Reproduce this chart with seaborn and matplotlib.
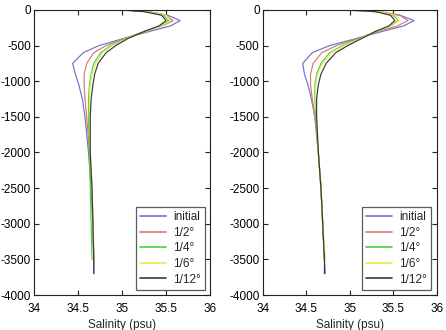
import matplotlib
matplotlib.use("Agg")
import matplotlib.pyplot as plt
import seaborn as sns
import pandas as pd
import numpy as np

sns.set_style("white")
plt.rcParams['font.family'] = ['Liberation Sans', 'DejaVu Sans']
plt.rcParams['axes.unicode_minus'] = False

# depth levels (m), shared by all profiles
depth = [0, -25, -75, -150, -225, -300, -400, -500, -600, -750, -900,
         -1050, -1250, -1500, -2000, -2500, -3000, -3500, -3700]

runs = ['initial', '1/2°', '1/4°', '1/6°', '1/12°']
colors = ['#7070c8', '#d07878', '#48d048', '#eaea48', '#383838']

# left panel salinity (psu)
left_initial = [35.02, 35.30, 35.52, 35.66, 35.55, 35.32, 35.02, 34.74, 34.56, 34.44,
                34.47, 34.51, 34.55, 34.58, 34.62, 34.65, 34.67, 34.68, 34.68]
left_half = [35.00, 35.30, 35.50, 35.58, 35.46, 35.26, 35.03, 34.82, 34.68, 34.60,
             34.57, 34.57, 34.58, 34.60, 34.63, 34.66, 34.67, 34.68, np.nan]
left_quarter = [35.00, 35.28, 35.47, 35.53, 35.43, 35.25, 35.05, 34.87, 34.76, 34.68,
                34.65, 34.63, 34.62, 34.62, 34.63, 34.64, 34.65, 34.66, np.nan]
left_sixth = [35.00, 35.28, 35.50, 35.55, 35.45, 35.27, 35.06, 34.89, 34.78, 34.70,
              34.66, 34.64, 34.63, 34.63, 34.64, 34.66, 34.67, 34.68, np.nan]
left_twelfth = [34.98, 35.25, 35.45, 35.50, 35.42, 35.26, 35.07, 34.93, 34.82, 34.73,
                34.69, 34.67, 34.65, 34.64, 34.64, 34.66, 34.67, 34.68, 34.68]

# right panel salinity (psu)
right_initial = [34.87, 35.30, 35.58, 35.74, 35.62, 35.38, 35.08, 34.77, 34.57, 34.46,
                 34.48, 34.52, 34.56, 34.60, 34.64, 34.67, 34.69, 34.71, 34.72]
right_half = [35.00, 35.35, 35.58, 35.67, 35.55, 35.33, 35.10, 34.85, 34.68, 34.58,
              34.55, 34.55, 34.57, 34.60, 34.64, 34.67, 34.69, 34.71, np.nan]
right_quarter = [35.02, 35.32, 35.50, 35.56, 35.47, 35.30, 35.12, 34.92, 34.77, 34.67,
                 34.62, 34.60, 34.60, 34.61, 34.64, 34.67, 34.69, 34.71, np.nan]
right_sixth = [35.02, 35.33, 35.52, 35.57, 35.48, 35.31, 35.13, 34.94, 34.79, 34.69,
               34.63, 34.61, 34.61, 34.62, 34.64, 34.67, 34.69, 34.72, np.nan]
right_twelfth = [35.01, 35.30, 35.47, 35.52, 35.45, 35.30, 35.14, 34.98, 34.84, 34.73,
                 34.67, 34.64, 34.62, 34.62, 34.64, 34.67, 34.69, 34.71, 34.71]

xticks = [34, 34.5, 35, 35.5, 36]
xticklabels = ['34', '34.5', '35', '35.5', '36']
yticks = list(range(0, -4001, -500))


def make_df(profiles):
    rows = []
    for run, sal in zip(runs, profiles):
        for d, s in zip(depth, sal):
            rows.append({'Depth': d, 'Salinity': s, 'run': run})
    return pd.DataFrame(rows).dropna()


def draw(ax, df):
    sns.lineplot(data=df, x='Salinity', y='Depth', hue='run', hue_order=runs,
                 palette=colors, orient='y', sort=False, estimator=None,
                 linewidth=0.85, ax=ax)
    ax.set_xlim(34, 36)
    ax.set_ylim(-4000, 0)
    ax.set_xticks(xticks)
    ax.set_xticklabels(xticklabels)
    ax.set_yticks(yticks)
    ax.set_yticklabels([str(t) for t in yticks])
    ax.set_xlabel('Salinity (psu)', fontsize=8.5, labelpad=3)
    ax.set_ylabel('')
    ax.tick_params(direction='in', length=3.5, width=0.8, labelsize=8.5,
                   top=True, right=True, bottom=True, left=True, colors='#222222',
                   labelcolor='black')
    ax.tick_params(axis='x', pad=5.5)
    ax.tick_params(axis='y', pad=2.2)
    for sp in ax.spines.values():
        sp.set_color('#222222')
        sp.set_linewidth(0.8)
    leg = ax.legend(loc='lower right', fontsize=8.5, frameon=True, fancybox=False,
                    handlelength=2.2, borderpad=0.35, labelspacing=0.3,
                    handletextpad=0.6, borderaxespad=0.45)
    leg.get_frame().set_edgecolor('#333333')
    leg.get_frame().set_linewidth(0.9)
    for h in leg.get_lines():
        h.set_linewidth(1.2)


fig = plt.figure(figsize=(4.46, 3.30), dpi=100)
ax1 = fig.add_axes([0.076, 0.106, 0.395, 0.864])
ax2 = fig.add_axes([0.589, 0.106, 0.390, 0.864])

draw(ax1, make_df([left_initial, left_half, left_quarter, left_sixth, left_twelfth]))
draw(ax2, make_df([right_initial, right_half, right_quarter, right_sixth, right_twelfth]))

fig.savefig('out.png', dpi=100)
